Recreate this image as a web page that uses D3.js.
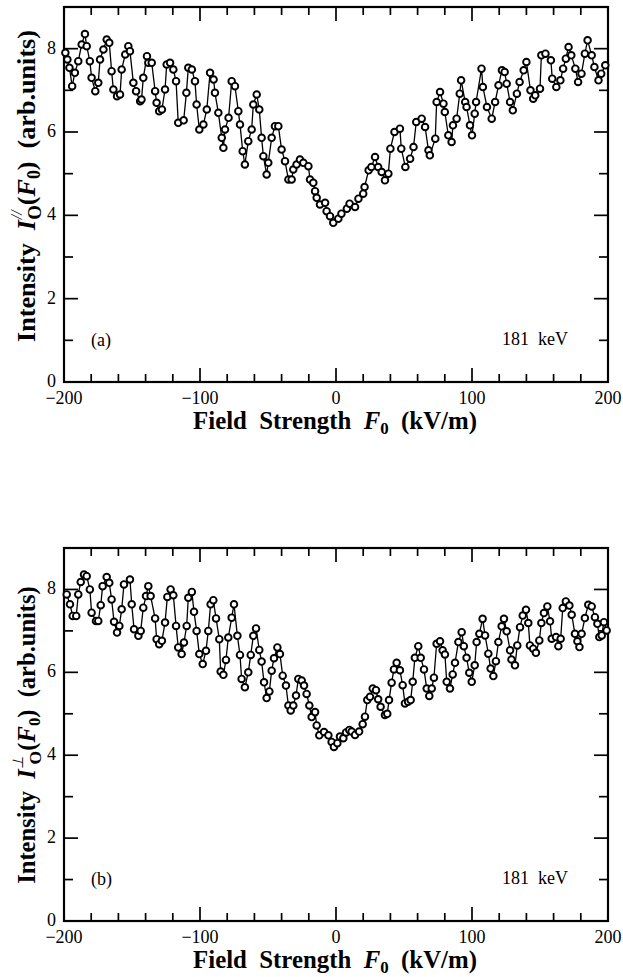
<!DOCTYPE html>
<html>
<head>
<meta charset="utf-8">
<script src="https://cdn.jsdelivr.net/npm/d3@7"></script>
<style>
  html, body { margin: 0; padding: 0; background: #fff; }
  svg text { font-family: "Liberation Serif", "Times New Roman", serif; fill: #000; white-space: pre; }
</style>
</head>
<body>
<svg id="fig" width="623" height="977"></svg>
<script>
// Field strength F0 (kV/m) and intensity, parallel polarisation (panel a)
const fieldA = [
  -199, -197.5, -196, -194, -192, -189.5, -187, -184.6, -183.3, -181, -179.7, -177, -174.8, -173.5, -171, -168.6,
  -166.7, -165, -163.7, -161, -158.8, -157.6, -155, -152.7, -151.5, -149, -147, -144, -143, -141.7, -139, -138,
  -135.5, -133, -131.9, -130, -128, -125.7, -124.5, -122, -119.6, -117.6, -116, -112, -110, -108.6, -106, -103.7,
  -102.5, -100.5, -97.5, -95, -92.6, -90, -89, -86.5, -84, -82.8, -81.6, -79, -76.7, -74.3, -71.8, -70.6,
  -68.6, -67, -64.5, -62, -60.8, -58.3, -56.4, -54.7, -53.4, -51, -49.8, -47.3, -44.9, -42.4, -40, -37.5,
  -35, -32.6, -31.4, -29, -26.5, -24, -20.3, -19.1, -16.7, -15.4, -14.2, -11.8, -8, -6.9, -4.4, -2,
  1.7, 4, 8, 10, 14, 16.5, 20, 21, 24, 26, 28.7, 31, 33.6, 36, 38.5, 40,
  43, 47, 48, 51, 54.5, 57, 59, 63, 65.5, 68, 69, 73, 74, 76.5, 79, 80,
  82.6, 85, 86, 88.7, 91, 92, 95, 96, 98.5, 100, 102, 103, 107, 108, 111, 114.5,
  117, 119.5, 122, 124, 125.5, 128, 130, 133, 135, 138, 140, 143, 145, 146.5, 150, 151,
  154, 158, 159, 162, 165, 167, 169, 171, 173, 176, 178, 180.5, 183, 185, 188, 190,
  193, 195, 198
];
const intensityA = [
  7.9, 7.74, 7.54, 7.1, 7.42, 7.7, 8.1, 8.35, 8.06, 7.7, 7.3, 6.98, 7.18, 7.74, 7.98, 8.22,
  8.14, 7.46, 7.02, 6.86, 6.9, 7.5, 7.86, 8.06, 7.94, 7.18, 6.98, 6.74, 6.78, 7.3, 7.82, 7.66,
  7.66, 6.98, 6.7, 6.5, 6.54, 7.02, 7.62, 7.66, 7.5, 7.22, 6.22, 6.28, 6.94, 7.54, 7.5, 7.22,
  6.66, 6.06, 6.18, 6.54, 7.42, 7.26, 6.94, 6.46, 5.86, 5.62, 6.06, 6.34, 7.22, 7.1, 6.5, 6.18,
  5.54, 5.22, 5.78, 6.06, 6.66, 6.9, 6.54, 5.86, 5.42, 4.98, 5.26, 5.86, 6.14, 6.14, 5.58, 5.3,
  4.86, 4.86, 5.1, 5.22, 5.34, 5.26, 5.18, 4.86, 4.78, 4.58, 4.42, 4.26, 4.3, 4.1, 3.98, 3.82,
  3.92, 4.04, 4.16, 4.28, 4.2, 4.4, 4.52, 4.68, 5.08, 5.16, 5.4, 5.16, 5.04, 4.84, 5.0, 5.6,
  6.0, 6.08, 5.6, 5.16, 5.36, 5.64, 6.24, 6.32, 6.12, 5.56, 5.44, 5.84, 6.72, 6.96, 6.68, 6.48,
  5.92, 5.76, 6.16, 6.32, 6.92, 7.24, 6.72, 6.6, 6.16, 5.92, 6.44, 6.72, 7.52, 7.08, 6.6, 6.32,
  6.72, 7.12, 7.48, 7.44, 7.16, 6.72, 6.52, 6.92, 7.2, 7.48, 7.68, 7.0, 6.8, 6.88, 7.04, 7.84,
  7.88, 7.72, 7.28, 7.08, 7.24, 7.52, 7.76, 8.04, 7.84, 7.52, 7.2, 7.4, 7.88, 8.2, 7.84, 7.56,
  7.24, 7.4, 7.6
];

// Field strength F0 (kV/m) and intensity, perpendicular polarisation (panel b)
const fieldB = [
  -198, -195.6, -193.6, -191, -189.5, -187.7, -185.3, -183.3, -181, -179.7, -176.5, -174.8, -173, -171.6, -168.6, -166.7,
  -165, -163.2, -161, -159.3, -157.6, -155.9, -151.5, -150.2, -148.5, -145.3, -143.6, -141.7, -139.7, -138, -136.3, -133,
  -131.9, -130, -128, -125.7, -124, -121.6, -119.6, -117.6, -116, -113.5, -111.8, -109.8, -108.6, -106, -104.4, -102.5,
  -100.5, -98, -95.6, -93.9, -92.2, -90.2, -88.2, -85.8, -84.8, -82.8, -80.9, -79.2, -76.7, -75, -72.5, -70.6,
  -69.4, -67, -64.5, -62.7, -60.8, -58.8, -56.4, -54.7, -52.9, -51, -49, -47.3, -45.6, -43.1, -41.2, -39.2,
  -36.8, -35, -33.3, -31.4, -29.4, -27.7, -25.2, -23.5, -21.6, -19.6, -17.9, -15.4, -14.2, -12.3, -8.8, -5.6,
  -3.2, -1.5, 1, 2.9, 5.4, 7.4, 9.8, 11.5, 14, 17, 19.6, 21.3, 23, 25, 27, 29.4,
  31, 32.8, 36, 37.7, 39, 40.9, 42.6, 44.6, 47, 49, 50.7, 53, 54.9, 56.4, 58, 60.5,
  62.3, 64.7, 66.7, 68.6, 70.4, 72, 74, 76.5, 78.4, 80.1, 81.4, 83.8, 85.8, 87.5, 90, 92.4,
  94, 96, 98, 99.8, 102, 103.4, 105.4, 107.8, 109.6, 112, 113.7, 115.7, 117.6, 119.4, 121.8, 123.5,
  125.5, 128, 129, 131.6, 133.3, 135.3, 137.3, 139.7, 141.4, 142.6, 145, 147, 149.5, 151, 152.9, 155.4,
  157.4, 158.6, 161.8, 163.5, 165.2, 166.7, 169, 171.6, 173.3, 175.7, 177.5, 179, 180.6, 183, 185.5, 188,
  190.4, 192.2, 193.6, 195.4, 197, 199
];
const intensityB = [
  7.88, 7.64, 7.36, 7.36, 7.88, 8.18, 8.36, 8.32, 8.0, 7.44, 7.24, 7.24, 7.62, 8.08, 8.3, 8.16,
  7.76, 7.22, 6.96, 7.12, 7.52, 8.12, 8.24, 7.64, 7.04, 6.88, 7.0, 7.56, 7.84, 8.08, 7.84, 7.3,
  6.8, 6.68, 6.76, 7.2, 7.82, 8.0, 7.86, 7.12, 6.6, 6.44, 6.72, 7.12, 7.8, 7.94, 7.46, 7.0,
  6.44, 6.2, 6.52, 7.0, 7.64, 7.74, 7.3, 6.8, 6.02, 5.94, 6.3, 6.84, 7.32, 7.64, 6.88, 6.42,
  5.84, 5.64, 6.0, 6.42, 6.88, 7.06, 6.54, 6.26, 5.76, 5.38, 5.54, 6.04, 6.34, 6.6, 6.44, 5.92,
  5.68, 5.2, 5.08, 5.2, 5.44, 5.84, 5.8, 5.68, 5.48, 5.2, 4.92, 5.04, 4.72, 4.48, 4.56, 4.48,
  4.32, 4.2, 4.29, 4.45, 4.41, 4.55, 4.61, 4.57, 4.49, 4.57, 4.75, 4.93, 5.33, 5.41, 5.61, 5.57,
  5.35, 5.17, 4.97, 5.0, 5.33, 5.75, 6.07, 6.23, 6.05, 5.69, 5.25, 5.29, 5.33, 5.77, 6.35, 6.63,
  6.35, 6.07, 5.61, 5.43, 5.61, 5.87, 6.69, 6.75, 6.53, 6.43, 5.77, 5.61, 5.95, 6.23, 6.73, 6.97,
  6.63, 6.35, 5.99, 5.77, 6.17, 6.73, 6.93, 7.29, 6.89, 6.45, 6.09, 5.91, 6.27, 6.73, 7.11, 7.29,
  6.99, 6.53, 6.31, 6.17, 6.65, 7.09, 7.37, 7.51, 7.19, 6.65, 6.57, 6.47, 6.77, 7.19, 7.43, 7.59,
  7.23, 6.81, 6.85, 6.63, 6.81, 7.55, 7.71, 7.61, 7.39, 6.93, 6.75, 6.61, 6.93, 7.31, 7.63, 7.59,
  7.33, 7.17, 6.85, 6.89, 7.21, 7.01
];

// Axis ticks and labels
const xMajorTicks = [-200, -100, 0, 100, 200];
const xMinorTicks = [-180, -160, -140, -120, -80, -60, -40, -20, 20, 40, 60, 80, 120, 140, 160, 180];
const yMajorTicks = [0, 2, 4, 6, 8];
const yMinorTicks = [1, 3, 5, 7];
const xDomain = [-200, 200];
const yDomain = [0, 9];
const energyLabel = "181  keV";

const svg = d3.select("#fig");

function fmt(v) { return v < 0 ? "\u2212" + Math.abs(v) : String(v); }

// scale a text's font so its advance equals the wanted length
function fitLength(sel, target) {
  const w = sel.node().getBBox().width;
  const fs = parseFloat(sel.attr("font-size"));
  if (w > 0) sel.attr("font-size", (fs * target / w).toFixed(2));
}

function drawPanel(opts) {
  const { top, bottom, left, right, field, intensity, tag, sym, yTitleLen, yTitleMid } = opts;
  const x = d3.scaleLinear().domain(xDomain).range([left, right]);
  const y = d3.scaleLinear().domain(yDomain).range([bottom, top]);
  const g = svg.append("g");

  const MAJ = 14, MIN = 8;
  const tickStyle = sel => sel.attr("stroke", "#000").attr("stroke-width", 1.7);

  // x ticks on bottom and top, pointing inward
  const xt = xMajorTicks.map(v => ({ v, len: MAJ })).concat(xMinorTicks.map(v => ({ v, len: MIN })));
  g.selectAll(null).data(xt).join("line")
    .attr("x1", d => x(d.v)).attr("x2", d => x(d.v))
    .attr("y1", bottom).attr("y2", d => bottom - d.len).call(tickStyle);
  g.selectAll(null).data(xt).join("line")
    .attr("x1", d => x(d.v)).attr("x2", d => x(d.v))
    .attr("y1", top).attr("y2", d => top + d.len).call(tickStyle);

  // y ticks on left and right, pointing inward
  const yt = yMajorTicks.map(v => ({ v, len: MAJ })).concat(yMinorTicks.map(v => ({ v, len: MIN + 1 })));
  g.selectAll(null).data(yt).join("line")
    .attr("y1", d => y(d.v)).attr("y2", d => y(d.v))
    .attr("x1", left).attr("x2", d => left + d.len).call(tickStyle);
  g.selectAll(null).data(yt).join("line")
    .attr("y1", d => y(d.v)).attr("y2", d => y(d.v))
    .attr("x1", right).attr("x2", d => right - d.len).call(tickStyle);

  // frame
  g.append("rect").attr("x", left).attr("y", top)
    .attr("width", right - left).attr("height", bottom - top)
    .attr("fill", "none").attr("stroke", "#000").attr("stroke-width", 2.2);

  // tick labels
  g.selectAll(null).data(xMajorTicks).join("text")
    .attr("x", d => x(d)).attr("y", bottom + 22)
    .attr("text-anchor", "middle").attr("font-size", 18)
    .text(fmt);
  g.selectAll(null).data(yMajorTicks).join("text")
    .attr("x", left - 8).attr("y", d => y(d) + 5)
    .attr("text-anchor", "end").attr("font-size", 18)
    .text(fmt);

  // data: connecting line and open circles
  const pts = field.map((f, i) => [f, intensity[i]]);
  const line = d3.line().x(d => x(d[0])).y(d => y(d[1]));
  g.append("path").attr("d", line(pts))
    .attr("fill", "none").attr("stroke", "#000").attr("stroke-width", 1.3);
  g.selectAll(null).data(pts).join("circle")
    .attr("cx", d => x(d[0])).attr("cy", d => y(d[1]))
    .attr("r", 3.3).attr("fill", "#fff").attr("stroke", "#000").attr("stroke-width", 1.9);

  // in-plot labels
  g.append("text").attr("x", 91).attr("y", bottom - 36)
    .attr("font-size", 18).text(tag);
  g.append("text").attr("x", right - 40).attr("y", bottom - 37)
    .attr("text-anchor", "end").attr("font-size", 18).text(energyLabel);

  // x axis title
  const xt2 = g.append("text").attr("x", 335).attr("y", bottom + 47)
    .attr("text-anchor", "middle").attr("font-size", 24).attr("font-weight", "bold");
  xt2.append("tspan").text("Field  Strength  ");
  xt2.append("tspan").attr("font-style", "italic").text("F");
  xt2.append("tspan").attr("font-size", "0.68em").attr("dy", "0.3em").text("0");
  xt2.append("tspan").attr("dy", "-0.2em").text("  (kV/m)");
  fitLength(xt2, 284);

  // y axis title: I with stacked superscript (polarisation) and subscript O
  const yt2 = g.append("text")
    .attr("transform", `translate(35,${yTitleMid}) rotate(-90)`)
    .attr("text-anchor", "middle").attr("font-size", 24).attr("font-weight", "bold");
  yt2.append("tspan").text("Intensity  ");
  yt2.append("tspan").attr("font-style", "italic").text("I");
  // superscript: 0.6 of parent size, raised by 0.5 parent em
  yt2.append("tspan").attr("font-size", "0.6em").attr("font-style", "italic").attr("font-weight", "normal")
    .attr("dx", "0.05em").attr("dy", "-0.85em").text(sym);
  // subscript: 0.72 of parent size, moved back under the superscript
  yt2.append("tspan").attr("font-size", "0.72em")
    .attr("dx", "-0.5em").attr("dy", "1.05em").text("O");
  yt2.append("tspan").attr("dy", "-0.25em").text("(");
  yt2.append("tspan").attr("font-style", "italic").text("F");
  yt2.append("tspan").attr("font-size", "0.68em").attr("dy", "0.3em").text("0");
  yt2.append("tspan").attr("dy", "-0.2em").text(")  (arb.units)");
  fitLength(yt2, yTitleLen);
}

drawPanel({ top: 7, bottom: 382, left: 64, right: 608, field: fieldA, intensity: intensityA,
            tag: "(a)", sym: "//", yTitleLen: 312, yTitleMid: 186 });
drawPanel({ top: 548, bottom: 921, left: 64, right: 608, field: fieldB, intensity: intensityB,
            tag: "(b)", sym: "\u22a5", yTitleLen: 298, yTitleMid: 735 });
</script>
</body>
</html>
